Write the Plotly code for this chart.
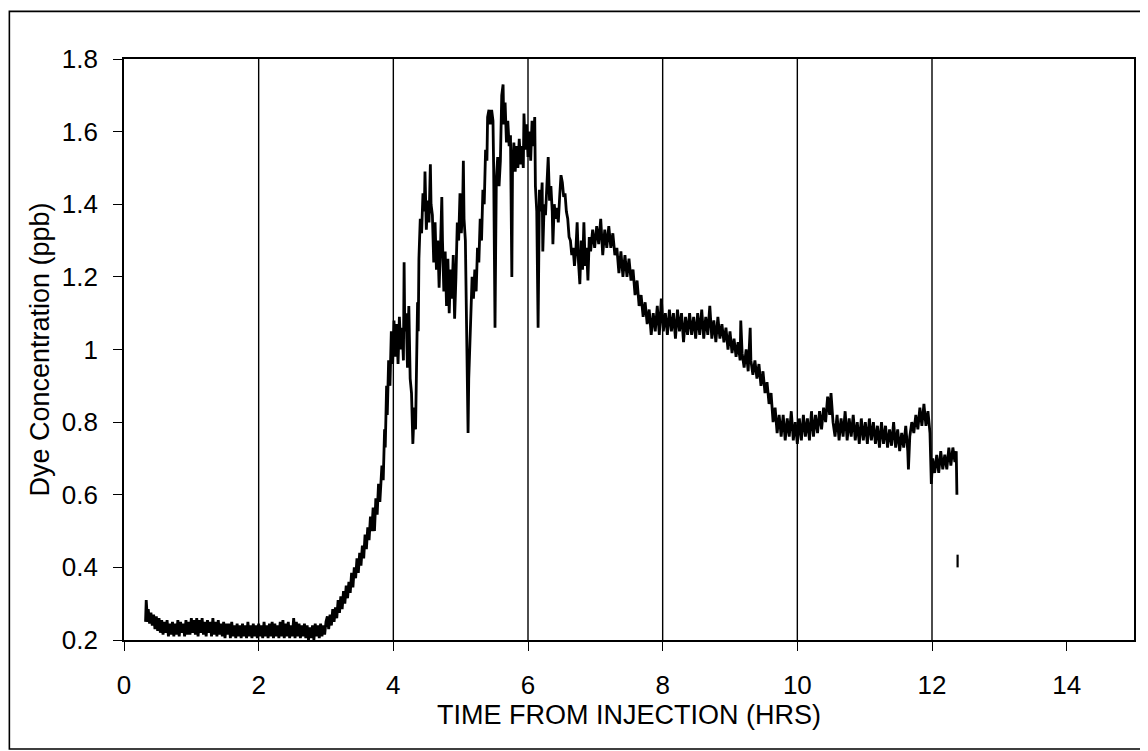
import plotly.graph_objects as go

# ---------------- data ----------------
X_TICKS = [0, 2, 4, 6, 8, 10, 12, 14]
X_LABELS = ["0", "2", "4", "6", "8", "10", "12", "14"]
Y_TICKS = [0.2, 0.4, 0.6, 0.8, 1.0, 1.2, 1.4, 1.6, 1.8]
Y_LABELS = ["0.2", "0.4", "0.6", "0.8", "1", "1.2", "1.4", "1.6", "1.8"]
GRID_X = [2, 4, 6, 8, 10, 12]

# baseline, 0.3 - 3.0 h
BASE_T = [0.32, 0.33, 0.34, 0.35,
          0.36, 0.38, 0.40, 0.42, 0.44, 0.46, 0.48, 0.50, 0.52, 0.54,
          0.56, 0.58, 0.60, 0.62, 0.64, 0.66, 0.68, 0.70, 0.72, 0.74,
          0.76, 0.78, 0.80, 0.82, 0.84, 0.86, 0.88, 0.90, 0.92, 0.94,
          0.96, 0.98, 1.00, 1.02, 1.04, 1.06, 1.08, 1.10, 1.12, 1.14,
          1.16, 1.18, 1.20, 1.22, 1.24, 1.26, 1.28, 1.30, 1.32, 1.34,
          1.36, 1.38, 1.40, 1.42, 1.44, 1.46, 1.48, 1.50, 1.52, 1.54,
          1.56, 1.58, 1.60, 1.62, 1.64, 1.66, 1.68, 1.70, 1.72, 1.74,
          1.76, 1.78, 1.80, 1.82, 1.84, 1.86, 1.88, 1.90, 1.92, 1.94,
          1.96, 1.98, 2.00, 2.02, 2.04, 2.06, 2.08, 2.10, 2.12, 2.14,
          2.16, 2.18, 2.20, 2.22, 2.24, 2.26, 2.28, 2.30, 2.32, 2.34,
          2.36, 2.38, 2.40, 2.42, 2.44, 2.46, 2.48, 2.50, 2.52, 2.54,
          2.56, 2.58, 2.60, 2.62, 2.64, 2.66, 2.68, 2.70, 2.72, 2.74,
          2.76, 2.78, 2.80, 2.82, 2.84, 2.86, 2.88, 2.90, 2.92, 2.94,
          2.96, 2.98, 3.00]
BASE_C = [0.25, 0.31, 0.28, 0.25,
          0.285, 0.245, 0.275, 0.24, 0.27, 0.23, 0.265, 0.225, 0.26, 0.22,
          0.255, 0.215, 0.25, 0.22, 0.255, 0.21, 0.245, 0.215, 0.25, 0.21,
          0.245, 0.215, 0.255, 0.21, 0.25, 0.22, 0.245, 0.21, 0.255, 0.215,
          0.25, 0.215, 0.26, 0.22, 0.255, 0.215, 0.26, 0.21, 0.255, 0.22,
          0.26, 0.215, 0.25, 0.21, 0.255, 0.22, 0.25, 0.21, 0.26, 0.215,
          0.25, 0.21, 0.255, 0.215, 0.245, 0.21, 0.25, 0.205, 0.245, 0.215,
          0.245, 0.205, 0.25, 0.21, 0.24, 0.205, 0.245, 0.21, 0.24, 0.205,
          0.245, 0.21, 0.24, 0.205, 0.25, 0.21, 0.24, 0.205, 0.245, 0.21,
          0.24, 0.205, 0.245, 0.21, 0.24, 0.205, 0.25, 0.21, 0.24, 0.205,
          0.245, 0.21, 0.25, 0.205, 0.245, 0.21, 0.24, 0.205, 0.25, 0.21,
          0.255, 0.205, 0.245, 0.21, 0.25, 0.205, 0.24, 0.21, 0.26, 0.205,
          0.25, 0.21, 0.245, 0.205, 0.24, 0.21, 0.245, 0.205, 0.24, 0.20,
          0.235, 0.205, 0.24, 0.20, 0.245, 0.21, 0.24, 0.205, 0.245, 0.21,
          0.24, 0.215, 0.25]

# rising limb, 3.0 - 4.0 h
RISE_T = [3.02, 3.04, 3.06, 3.08, 3.10, 3.12, 3.14, 3.16, 3.18, 3.20,
          3.22, 3.24, 3.26, 3.28, 3.30, 3.32, 3.34, 3.36, 3.38, 3.40,
          3.42, 3.44, 3.46, 3.48, 3.50, 3.52, 3.54, 3.56, 3.58, 3.60,
          3.62, 3.64, 3.66, 3.68, 3.70, 3.72, 3.74, 3.76, 3.78, 3.80,
          3.83, 3.85, 3.87, 3.88, 3.90, 3.91, 3.93, 3.95, 3.97, 3.99]
RISE_C = [0.265, 0.23, 0.27, 0.24, 0.285, 0.25, 0.29, 0.26, 0.31, 0.275,
          0.32, 0.285, 0.335, 0.30, 0.35, 0.315, 0.36, 0.33, 0.385, 0.345,
          0.40, 0.37, 0.425, 0.385, 0.44, 0.405, 0.46, 0.425, 0.49, 0.45,
          0.51, 0.475, 0.54, 0.50, 0.565, 0.50, 0.59, 0.545, 0.63, 0.58,
          0.68, 0.64, 0.78, 0.73, 0.90, 0.82, 0.97, 0.90, 1.05, 0.96]

# noisy peak, 4.0 - 5.0 h
PEAK1_T = [4.01, 4.03, 4.05, 4.07, 4.09, 4.11, 4.13, 4.15,
           4.16, 4.17,
           4.19, 4.21, 4.23, 4.25, 4.27, 4.29, 4.31, 4.33, 4.35,
           4.36, 4.37, 4.38,
           4.40, 4.42, 4.44, 4.46,
           4.47, 4.49, 4.51, 4.53, 4.55,
           4.56, 4.58, 4.60, 4.62, 4.64, 4.66, 4.68, 4.70, 4.72,
           4.73, 4.75, 4.77, 4.79, 4.81, 4.83, 4.85, 4.87, 4.89, 4.91, 4.93, 4.95, 4.97, 4.99]
PEAK1_C = [1.08, 0.98, 1.07, 0.96, 1.09, 1.00, 1.06, 0.97,
           1.24, 1.05,
           1.10, 0.95, 1.12, 0.92, 0.88, 0.74, 0.84, 0.78, 1.00,
           1.13, 1.05, 1.25,
           1.36, 1.32, 1.43, 1.38,
           1.49, 1.33, 1.41, 1.35, 1.51,
           1.40, 1.37, 1.24, 1.35, 1.22, 1.30, 1.17, 1.28, 1.42,
           1.30, 1.16, 1.27, 1.12, 1.25, 1.10, 1.22, 1.14, 1.26, 1.085, 1.20, 1.35, 1.30, 1.43]

# noisy peak, 5.0 - 6.7 h
PEAK2_T = [5.01, 5.03, 5.04, 5.05, 5.07, 5.09, 5.10, 5.11, 5.12, 5.14,
           5.17, 5.19, 5.21, 5.23, 5.25, 5.27, 5.29, 5.31, 5.33, 5.35,
           5.37, 5.39, 5.40, 5.42, 5.44, 5.46, 5.48, 5.49, 5.51, 5.52,
           5.53, 5.55, 5.57, 5.59, 5.60, 5.61, 5.63, 5.64, 5.66, 5.68,
           5.70, 5.72, 5.74, 5.75, 5.76, 5.77, 5.79, 5.81, 5.83, 5.85,
           5.87, 5.89, 5.91, 5.93, 5.94, 5.96, 5.98, 6.00, 6.02, 6.04,
           6.06, 6.08, 6.10, 6.11, 6.13, 6.15, 6.16, 6.17, 6.19, 6.21,
           6.22, 6.24, 6.26, 6.28, 6.30, 6.32, 6.34, 6.36, 6.37, 6.39,
           6.41, 6.43, 6.45, 6.47, 6.49, 6.51, 6.53, 6.55, 6.57, 6.59,
           6.61, 6.63, 6.65, 6.67, 6.69]
PEAK2_C = [1.32, 1.40, 1.52, 1.36, 1.30, 1.08, 0.95, 0.77, 0.92, 1.05,
           1.20, 1.14, 1.22, 1.16, 1.28, 1.24, 1.36, 1.30, 1.44, 1.40,
           1.55, 1.52, 1.64, 1.66, 1.62, 1.66, 1.63, 1.50, 1.06, 1.28,
           1.47, 1.53, 1.45, 1.52, 1.58, 1.70, 1.73, 1.62, 1.68, 1.57,
           1.63, 1.56, 1.59, 1.30, 1.20, 1.50, 1.57, 1.49, 1.56, 1.50,
           1.58, 1.51, 1.56, 1.50, 1.65, 1.55, 1.62, 1.53, 1.60, 1.52,
           1.63, 1.56, 1.64, 1.45, 1.38, 1.06, 1.26, 1.44, 1.38, 1.46,
           1.27, 1.40, 1.37, 1.45, 1.53, 1.41, 1.45, 1.38, 1.29, 1.40,
           1.36, 1.39, 1.35, 1.42, 1.48, 1.46, 1.42, 1.43, 1.38, 1.36,
           1.31, 1.30, 1.26, 1.28, 1.23]

# falling limb, 6.7 - 10.0 h
DECL_T = [6.71, 6.73, 6.75, 6.77, 6.79, 6.81, 6.83, 6.85, 6.87, 6.89,
          6.91, 6.93, 6.96, 6.99, 7.02, 7.05, 7.08, 7.11, 7.14, 7.17,
          7.20, 7.23, 7.26, 7.29, 7.32, 7.35, 7.38, 7.41, 7.44, 7.47,
          7.50, 7.53, 7.56, 7.59, 7.62, 7.65, 7.68, 7.71, 7.74, 7.77,
          7.80, 7.83, 7.86, 7.89, 7.92, 7.95, 7.98, 8.01, 8.04, 8.07,
          8.10, 8.13, 8.16, 8.19, 8.22, 8.25, 8.28, 8.31, 8.34, 8.37,
          8.40, 8.43, 8.46, 8.49, 8.52, 8.55, 8.58, 8.61, 8.64, 8.67,
          8.70, 8.73, 8.76, 8.79, 8.82, 8.85, 8.88, 8.91, 8.94, 8.97,
          9.00, 9.03, 9.06, 9.09, 9.12, 9.15,
          9.16, 9.18, 9.21, 9.24, 9.27, 9.30, 9.31, 9.34, 9.37, 9.40,
          9.43, 9.46, 9.49, 9.52, 9.55, 9.58, 9.61, 9.64, 9.67, 9.70,
          9.73, 9.76, 9.79, 9.82, 9.85, 9.88, 9.91, 9.94, 9.97]
DECL_C = [1.27, 1.35, 1.24, 1.18, 1.30, 1.22, 1.35, 1.23, 1.28, 1.19,
          1.31, 1.27, 1.33, 1.28, 1.34, 1.29, 1.36, 1.26, 1.33, 1.28,
          1.34, 1.28, 1.32, 1.26, 1.28, 1.21, 1.27, 1.20, 1.26, 1.20,
          1.25, 1.19, 1.22, 1.15, 1.19, 1.12, 1.15, 1.09, 1.13, 1.07,
          1.11, 1.04, 1.10, 1.05, 1.12, 1.04, 1.14, 1.05, 1.10, 1.04,
          1.11, 1.05, 1.10, 1.03, 1.11, 1.05, 1.10, 1.02, 1.09, 1.04,
          1.10, 1.04, 1.09, 1.03, 1.10, 1.04, 1.11, 1.03, 1.09, 1.04,
          1.12, 1.03, 1.08, 1.02, 1.09, 1.03, 1.07, 1.02, 1.06, 1.00,
          1.05, 0.99, 1.03, 0.98, 1.02, 0.97,
          1.08, 0.99, 0.95, 1.00, 0.94, 1.06, 0.97, 0.93, 0.97, 0.92,
          0.96, 0.90, 0.94, 0.88, 0.91, 0.85, 0.88, 0.80, 0.84, 0.77,
          0.82, 0.76, 0.82, 0.75, 0.81, 0.76, 0.83, 0.75, 0.80]

# tail, 10.0 - 12.4 h
TAIL_T = [10.00, 10.03, 10.06, 10.09, 10.12, 10.15, 10.18, 10.21, 10.24, 10.27,
          10.30, 10.33, 10.36, 10.39, 10.42, 10.45, 10.48, 10.50, 10.53, 10.56,
          10.59, 10.62, 10.65, 10.68, 10.71, 10.74, 10.77, 10.80, 10.83, 10.86,
          10.89, 10.92, 10.95, 10.98, 11.01, 11.04, 11.07, 11.10, 11.13, 11.16,
          11.19, 11.22, 11.25, 11.28, 11.31, 11.34, 11.37, 11.40, 11.43, 11.46,
          11.49, 11.52, 11.55, 11.58, 11.61, 11.64, 11.65, 11.67, 11.70, 11.73,
          11.76, 11.79, 11.82, 11.85, 11.88, 11.91, 11.94, 11.97, 11.99, 12.01,
          12.04, 12.07, 12.10, 12.13, 12.16, 12.19, 12.22, 12.25, 12.28, 12.31,
          12.34, 12.36, 12.37]
TAIL_C = [0.74, 0.81, 0.75, 0.82, 0.76, 0.81, 0.75, 0.83, 0.76, 0.82,
          0.77, 0.83, 0.78, 0.84, 0.80, 0.87, 0.82, 0.88, 0.80, 0.76,
          0.82, 0.75, 0.81, 0.76, 0.83, 0.75, 0.81, 0.76, 0.82, 0.75,
          0.80, 0.74, 0.81, 0.75, 0.80, 0.74, 0.81, 0.75, 0.80, 0.74,
          0.79, 0.73, 0.80, 0.74, 0.79, 0.73, 0.78, 0.735, 0.80, 0.73,
          0.78, 0.72, 0.77, 0.73, 0.79, 0.72, 0.67, 0.76, 0.80, 0.77,
          0.82, 0.78, 0.84, 0.79, 0.85, 0.79, 0.83, 0.77, 0.63, 0.70,
          0.66, 0.71, 0.66, 0.72, 0.67, 0.71, 0.67, 0.73, 0.68, 0.73,
          0.69, 0.72, 0.60]

# isolated last reading
DASH_T = [12.38, 12.38]
DASH_C = [0.435, 0.40]

segments = [(BASE_T, BASE_C), (RISE_T, RISE_C), (PEAK1_T, PEAK1_C),
            (PEAK2_T, PEAK2_C), (DECL_T, DECL_C), (TAIL_T, TAIL_C)]
time_hrs, dye_ppb = [], []
for ts, cs in segments:
    assert len(ts) == len(cs), (len(ts), len(cs), ts[0])
    time_hrs += ts
    dye_ppb += cs

# ---------------- figure ----------------
fig = go.Figure()
fig.add_trace(go.Scatter(x=time_hrs, y=dye_ppb, mode="lines",
                         line=dict(color="black", width=2.8),
                         showlegend=False, hoverinfo="skip"))
fig.add_trace(go.Scatter(x=DASH_T, y=DASH_C, mode="lines",
                         line=dict(color="black", width=2.2),
                         showlegend=False, hoverinfo="skip"))

for gx in GRID_X:
    fig.add_shape(type="line", xref="x", yref="paper", x0=gx, x1=gx, y0=0, y1=1,
                  line=dict(color="black", width=1.4), layer="below")

# outer frame around the whole figure
fig.add_shape(type="rect", xref="paper", yref="paper",
              x0=-0.1135, x1=1.0125, y0=-0.1875, y1=1.082,
              line=dict(color="black", width=1.6), fillcolor="rgba(0,0,0,0)")

FONT = "Liberation Sans, Arial, Helvetica, sans-serif"
# the page body has an 8px margin, so the figure is offset by 8px
fig.update_layout(
    width=1140, height=743,
    margin=dict(l=116, r=14, t=51, b=111),
    paper_bgcolor="white", plot_bgcolor="white",
    font=dict(family=FONT, color="black", size=26),
    showlegend=False,
)
fig.update_xaxes(
    range=[0, 15], tickmode="array", tickvals=X_TICKS, ticktext=X_LABELS,
    ticks="outside", ticklen=9, tickwidth=1.4, tickcolor="black",
    showline=True, linecolor="black", linewidth=1.8, mirror=True,
    showgrid=False, zeroline=False,
    tickfont=dict(family=FONT, size=26, color="black"),
    ticklabelstandoff=12,
    title=dict(text="TIME FROM INJECTION (HRS)", standoff=2,
               font=dict(family=FONT, size=27, color="black")),
)
fig.update_yaxes(
    range=[0.2, 1.8], tickmode="array", tickvals=Y_TICKS, ticktext=Y_LABELS,
    ticks="outside", ticklen=9, tickwidth=1.4, tickcolor="black",
    showline=True, linecolor="black", linewidth=1.8, mirror=True,
    showgrid=False, zeroline=False,
    tickfont=dict(family=FONT, size=26, color="black"),
    ticklabelstandoff=10,
    title=dict(text="Dye Concentration (ppb)", standoff=4,
               font=dict(family=FONT, size=27, color="black")),
)

fig.write_html("out.html")
